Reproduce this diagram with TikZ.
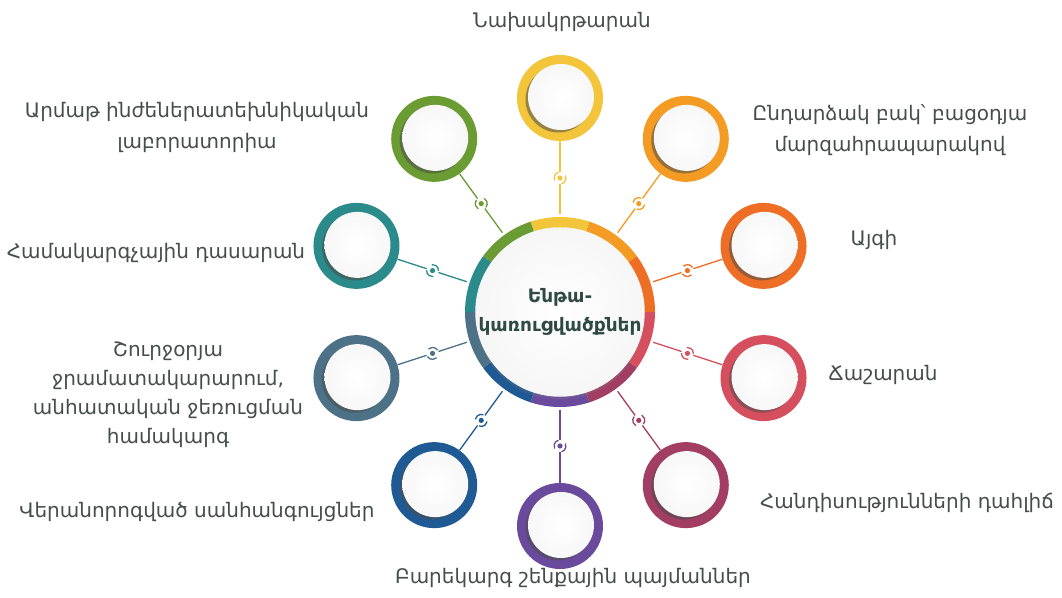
\documentclass[tikz,border=0pt]{standalone}
\usepackage{fontspec}
\setmainfont{DejaVu Sans}
\usetikzlibrary{shadows,calc}

\definecolor{cyellow}{HTML}{F2C53A}
\definecolor{corange}{HTML}{F39B23}
\definecolor{cdkorange}{HTML}{EE6E26}
\definecolor{cred}{HTML}{D64F5E}
\definecolor{cmaroon}{HTML}{A23E64}
\definecolor{cpurple}{HTML}{6A4A9C}
\definecolor{cblue}{HTML}{1F5A94}
\definecolor{cslate}{HTML}{4D7287}
\definecolor{cteal}{HTML}{2B8A8A}
\definecolor{cgreen}{HTML}{6B9B33}
\definecolor{textgray}{HTML}{474D4B}
\definecolor{hubtext}{HTML}{2F4A43}

% one coloured piece of the ring round the hub
\newcommand{\ringpart}[2]{%
	\fill[#2] (#1-18:95) arc[start angle=#1-18, end angle=#1+18, radius=95]
		-- (#1+18:80) arc[start angle=#1+18, end angle=#1-18, radius=80] -- cycle;}
% dot with two small brackets on a link
\newcommand{\knotmark}[3]{%
	\fill[#3] (#1) circle (2.6pt);
	\draw[#3, line width=1.3pt] (#1) ++(#2+15:6) arc[start angle=#2+15, end angle=#2+115, radius=6];
	\draw[#3, line width=1.3pt] (#1) ++(#2+195:6) arc[start angle=#2+195, end angle=#2+295, radius=6];}
% white disc inside a satellite
\newcommand{\satdisc}[1]{%
	\path[shade, inner color=white, outer color=gray!6,
		drop shadow={shadow xshift=-2.5pt, shadow yshift=-2.5pt, opacity=.55, fill=black!70}]
		($(#1)+(1,1)$) circle (33);}

\begin{document}
\begin{tikzpicture}[x=1pt, y=1pt,
		sat/.style={circle, minimum size=86pt, inner sep=0pt, fill=#1},
		knot/.style={circle, minimum size=12pt, inner sep=0pt},
		link/.style={line width=1.3pt, draw=#1},
		txt/.style={text=textgray, align=center, font=\fontsize{20}{31}\selectfont}]
		\useasboundingbox (-560,-285) rectangle (502,312);

		% ring round the hub
		\ringpart{90}{cyellow}
		\ringpart{54}{corange}
		\ringpart{18}{cdkorange}
		\ringpart{-18}{cred}
		\ringpart{-54}{cmaroon}
		\ringpart{-90}{cpurple}
		\ringpart{-126}{cblue}
		\ringpart{-162}{cslate}
		\ringpart{162}{cteal}
		\ringpart{126}{cgreen}

		\node[circle, minimum size=164pt, inner sep=0pt, shade, inner color=white, outer color=gray!7,
			drop shadow={shadow xshift=0pt, shadow yshift=-3pt, opacity=.2},
			text=hubtext, align=center, font=\fontsize{18.5}{29}\selectfont\bfseries] (hub) at (0,0)
			{Ենթա-\\կառուցվածքներ};

		% satellites
		\node[sat=cyellow] (s1) at (90:214) {};
		\node[sat=corange] (s2) at (54:214) {};
		\node[sat=cdkorange] (s3) at (18:214) {};
		\node[sat=cred] (s4) at (-18:214) {};
		\node[sat=cmaroon] (s5) at (-54:214) {};
		\node[sat=cpurple] (s6) at (-90:214) {};
		\node[sat=cblue] (s7) at (-126:214) {};
		\node[sat=cslate] (s8) at (-162:214) {};
		\node[sat=cteal] (s9) at (162:214) {};
		\node[sat=cgreen] (s10) at (126:214) {};

		\satdisc{s1} \satdisc{s2} \satdisc{s3} \satdisc{s4} \satdisc{s5}
		\satdisc{s6} \satdisc{s7} \satdisc{s8} \satdisc{s9} \satdisc{s10}

		% links
		\node[knot] (k1) at (90:134) {};
		\node[knot] (k2) at (54:134) {};
		\node[knot] (k3) at (18:134) {};
		\node[knot] (k4) at (-18:134) {};
		\node[knot] (k5) at (-54:134) {};
		\node[knot] (k6) at (-90:134) {};
		\node[knot] (k7) at (-126:134) {};
		\node[knot] (k8) at (-162:134) {};
		\node[knot] (k9) at (162:134) {};
		\node[knot] (k10) at (126:134) {};

		\draw[link=cyellow, shorten <=13pt] (hub) -- (k1);   \draw[link=cyellow] (k1) -- (s1);
		\draw[link=corange, shorten <=13pt] (hub) -- (k2);   \draw[link=corange] (k2) -- (s2);
		\draw[link=cdkorange, shorten <=13pt] (hub) -- (k3); \draw[link=cdkorange] (k3) -- (s3);
		\draw[link=cred, shorten <=13pt] (hub) -- (k4);      \draw[link=cred] (k4) -- (s4);
		\draw[link=cmaroon, shorten <=13pt] (hub) -- (k5);   \draw[link=cmaroon] (k5) -- (s5);
		\draw[link=cpurple, shorten <=13pt] (hub) -- (k6);   \draw[link=cpurple] (k6) -- (s6);
		\draw[link=cblue, shorten <=13pt] (hub) -- (k7);     \draw[link=cblue] (k7) -- (s7);
		\draw[link=cslate, shorten <=13pt] (hub) -- (k8);    \draw[link=cslate] (k8) -- (s8);
		\draw[link=cteal, shorten <=13pt] (hub) -- (k9);     \draw[link=cteal] (k9) -- (s9);
		\draw[link=cgreen, shorten <=13pt] (hub) -- (k10);   \draw[link=cgreen] (k10) -- (s10);

		\knotmark{k1}{90}{cyellow}
		\knotmark{k2}{54}{corange}
		\knotmark{k3}{18}{cdkorange}
		\knotmark{k4}{-18}{cred}
		\knotmark{k5}{-54}{cmaroon}
		\knotmark{k6}{-90}{cpurple}
		\knotmark{k7}{-126}{cblue}
		\knotmark{k8}{-162}{cslate}
		\knotmark{k9}{162}{cteal}
		\knotmark{k10}{126}{cgreen}

		% texts
		\node[txt] (t1) at (2,290) {Նախակրթարան};
		\node[txt] (t2) at (330,182) {Ընդարձակ բակ՝ բացօդյա\\մարզահրապարակով};
		\node[txt] (t3) at (314,72) {Այգի};
		\node[txt] (t4) at (323,-63) {Ճաշարան};
		\node[txt] (t5) at (347,-191) {Հանդիսությունների  դահլիճ};
		\node[txt] (t6) at (13,-266) {Բարեկարգ  շենքային պայմաններ};
		\node[txt] (t7) at (-363,-200) {Վերանորոգված սանհանգույցներ};
		\node[txt, font=\fontsize{20}{29}\selectfont] (t8) at (-392,-83) {Շուրջօրյա\\ջրամատակարարում,\\անհատական ջեռուցման\\համակարգ};
		\node[txt] (t9) at (-404,59) {Համակարգչային դասարան};
		\node[txt] (t10) at (-363,185) {Արմաթ ինժեներատեխնիկական\\լաբորատորիա};
	\end{tikzpicture}
\end{document}
